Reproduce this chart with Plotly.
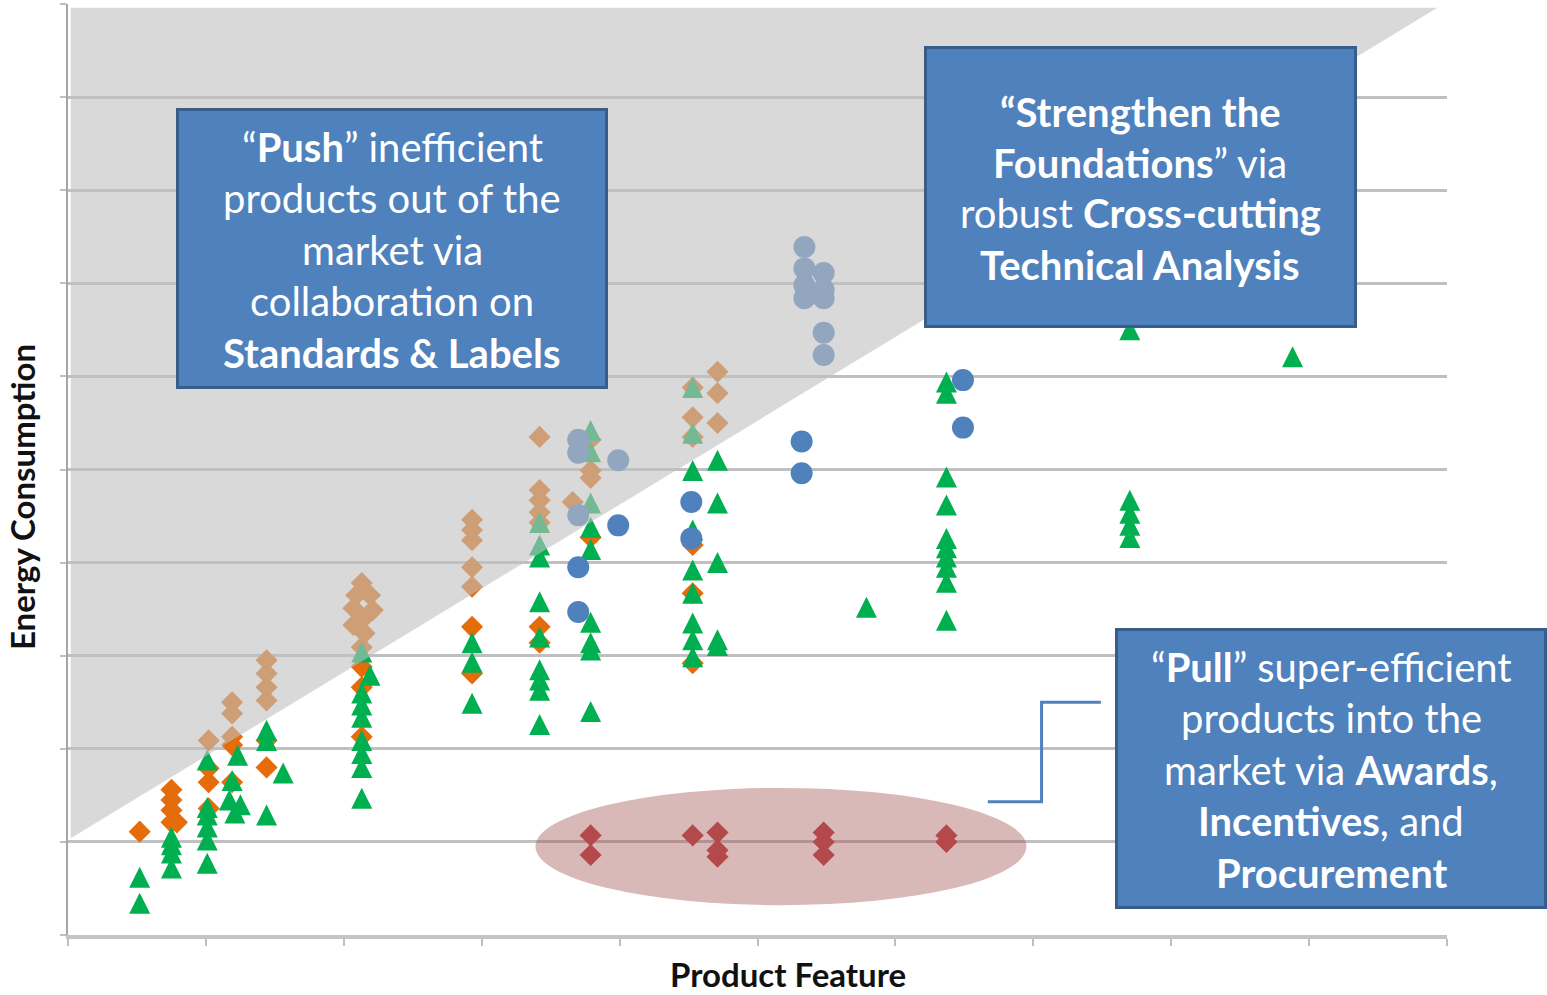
import plotly.graph_objects as go

# ---------------- data ----------------
green_x = [0.52, 0.52,
           0.75, 0.75, 0.75, 0.75,
           1.01, 1.01, 1.01, 1.01, 1.01, 1.01,
           1.23, 1.19, 1.17, 1.25, 1.21,
           1.44, 1.44, 1.56, 1.44,
           2.13, 2.19, 2.13, 2.13, 2.13, 2.13, 2.13, 2.13, 2.13,
           2.93, 2.93, 2.93,
           3.42, 3.42, 3.42, 3.42, 3.42, 3.42, 3.42, 3.42, 3.42,
           3.79, 3.79, 3.79, 3.79, 3.79, 3.79, 3.79, 3.79, 3.79,
           4.53, 4.53, 4.53, 4.53, 4.53, 4.53, 4.53, 4.53, 4.53,
           4.71, 4.71, 4.71, 4.71, 4.71,
           5.79,
           6.37, 6.37, 6.37, 6.37, 6.37, 6.37, 6.37, 6.37, 6.37, 6.37,
           7.70, 7.70, 7.70, 7.70, 7.70,
           8.88]
green_y = [0.62, 0.34,
           1.05, 0.97, 0.88, 0.72,
           1.88, 1.37, 1.29, 1.16, 1.02, 0.77,
           1.93, 1.66, 1.45, 1.40, 1.31,
           2.20, 2.09, 1.74, 1.29,
           3.04, 2.79, 2.60, 2.47, 2.34, 2.09, 1.95, 1.80, 1.47,
           3.14, 2.93, 2.49,
           4.43, 4.19, 4.06, 3.58, 3.20, 2.85, 2.74, 2.63, 2.26,
           5.42, 5.19, 4.64, 4.38, 4.14, 3.36, 3.14, 3.06, 2.40,
           5.88, 5.39, 4.99, 4.35, 3.92, 3.67, 3.35, 3.17, 2.99,
           5.10, 4.64, 4.00, 3.17, 3.11,
           3.52,
           5.94, 5.82, 4.92, 4.62, 4.26, 4.16, 4.06, 3.95, 3.79, 3.38,
           6.50, 4.67, 4.53, 4.40, 4.27,
           6.21]

orange_x = [0.52,
            0.75, 0.75, 0.75, 0.75, 0.79,
            1.02, 1.02, 1.02, 1.02,
            1.19, 1.19, 1.19, 1.19, 1.19,
            1.44, 1.44, 1.44, 1.44, 1.44, 1.44,
            2.13, 2.09, 2.19, 2.07, 2.21, 2.13, 2.07, 2.15, 2.13, 2.13, 2.13, 2.13,
            2.93, 2.93, 2.93, 2.93, 2.93, 2.93, 2.93,
            3.42, 3.42, 3.42, 3.42, 3.42, 3.42, 3.42,
            3.66, 3.79, 3.79, 3.79, 3.79,
            4.53, 4.53, 4.53, 4.53, 4.53, 4.53,
            4.71, 4.71, 4.71]
orange_y = [1.11,
            1.56, 1.45, 1.34, 1.21, 1.21,
            2.09, 1.79, 1.64, 1.36,
            2.50, 2.38, 2.13, 2.04, 1.64,
            2.95, 2.81, 2.66, 2.52, 2.09, 1.80,
            3.78, 3.65, 3.65, 3.51, 3.49, 3.38, 3.33, 3.24, 3.09, 2.88, 2.66, 2.13,
            4.46, 4.35, 4.24, 3.95, 3.74, 3.31, 2.81,
            5.35, 4.78, 4.67, 4.54, 4.43, 3.31, 3.14,
            4.65, 5.32, 4.99, 4.91, 4.27,
            5.88, 5.56, 5.35, 4.19, 3.67, 2.92,
            6.05, 5.82, 5.50]

blue_x = [3.70, 3.70, 3.99, 3.70, 3.70, 3.70, 3.99,
          4.52, 4.52,
          5.32, 5.32,
          5.34, 5.34, 5.48, 5.34, 5.48, 5.34, 5.48, 5.48, 5.48,
          6.49, 6.49]
blue_y = [5.32, 5.18, 5.10, 4.51, 3.95, 3.47, 4.40,
          4.65, 4.26,
          5.30, 4.96,
          7.39, 7.16, 7.11, 6.98, 6.93, 6.84, 6.84, 6.47, 6.23,
          5.96, 5.45]

red_x = [3.79, 3.79, 4.53, 4.71, 4.71, 4.71, 5.48, 5.48, 5.48, 6.37, 6.37]
red_y = [1.07, 0.86, 1.07, 1.10, 0.91, 0.84, 1.10, 1.00, 0.86, 1.07, 1.00]

x_ticks = list(range(11))
y_ticks = list(range(11))

push_lines = ["\u201c<b>Push</b>\u201d inefficient",
              "products out of the",
              "market via",
              "collaboration on",
              "<b>Standards &amp; Labels</b>"]
strengthen_lines = ["<b>\u201cStrengthen the</b>",
                    "<b>Foundations</b>\u201d via",
                    "robust <b>Cross-cutting</b>",
                    "<b>Technical Analysis</b>"]
pull_lines = ["\u201c<b>Pull</b>\u201d super-efficient",
              "products into the",
              "market via <b>Awards</b>,",
              "<b>Incentives</b>, and",
              "<b>Procurement</b>"]

# ---------------- figure ----------------
W, H = 1547, 995
ML, MR, MT, MB = 68, 100, 4, 60
PW, PH = W - ML - MR, H - MT - MB


def px(xp):
    return (xp - ML) / PW


def py(yp):
    return (H - MB - yp) / PH


TRI = 21

fig = go.Figure()
fig.add_trace(go.Scatter(x=orange_x, y=orange_y, mode="markers", hoverinfo="skip",
                         marker=dict(symbol="diamond", size=17, color="#e46c0a", line=dict(width=0))))
fig.add_trace(go.Scatter(x=green_x, y=green_y, mode="markers", hoverinfo="skip",
                         marker=dict(symbol="arrow-down", angle=180, size=TRI, standoff=TRI / 2,
                                     color="#00b050", line=dict(width=0))))
fig.add_trace(go.Scatter(x=blue_x, y=blue_y, mode="markers", hoverinfo="skip",
                         marker=dict(symbol="circle", size=22, color="#4f81bd", line=dict(width=0))))
fig.add_trace(go.Scatter(x=red_x, y=red_y, mode="markers", hoverinfo="skip",
                         marker=dict(symbol="diamond", size=17, color="#b3494a", line=dict(width=0))))

shapes = []
# ellipse highlighting super-efficient products
shapes.append(dict(type="circle", xref="x", yref="y", x0=3.39, x1=6.95, y0=0.32, y1=1.58,
                   fillcolor="rgba(160,78,78,0.4)", line=dict(width=0), layer="between"))
# translucent gray region (inefficient products)
shapes.append(dict(type="path", xref="x", yref="y", path="M 0.02,1.04 L 9.93,9.96 L 0.02,9.96 Z",
                   fillcolor="rgba(192,192,192,0.6)", line=dict(width=0), layer="above"))
# connector
shapes.append(dict(type="path", xref="x", yref="y", path="M 6.67,1.43 H 7.06 V 2.50 H 7.49",
                   line=dict(color="#4f81bd", width=3), layer="above"))
# text boxes
for (x0, x1, y0, y1) in [(176, 608, 108, 389), (924, 1357, 46, 328), (1115, 1547, 628, 909)]:
    shapes.append(dict(type="rect", xref="paper", yref="paper",
                       x0=px(x0 + 1.5), x1=px(x1 - 1.5), y0=py(y1 - 1.5), y1=py(y0 + 1.5),
                       fillcolor="#4f81bd", line=dict(color="#385d8a", width=3), layer="above"))

annotations = []
box_font = dict(family="Lato", size=40, color="white")
for lines, cx, cys in [(push_lines, 392, [147, 198, 250, 301, 353]),
                       (strengthen_lines, 1140, [112, 163, 213, 265]),
                       (pull_lines, 1331, [667, 718, 770, 821, 873])]:
    for t, cy in zip(lines, cys):
        annotations.append(dict(text=t, xref="paper", yref="paper", x=px(cx), y=py(cy),
                                xanchor="center", yanchor="middle", showarrow=False, font=box_font))

title_font = dict(family="Lato", size=33, color="#111111")
annotations.append(dict(text="<b>Energy Consumption</b>", xref="paper", yref="paper",
                        x=px(22), y=py(497), textangle=-90, xanchor="center", yanchor="middle",
                        showarrow=False, font=title_font))
annotations.append(dict(text="<b>Product Feature</b>", xref="paper", yref="paper",
                        x=px(788), y=py(995), xanchor="center", yanchor="bottom", borderpad=0,
                        showarrow=False, font=title_font))

fig.update_layout(
    width=W, height=H,
    margin=dict(l=ML, r=MR, t=MT, b=MB),
    plot_bgcolor="white", paper_bgcolor="white",
    showlegend=False,
    shapes=shapes, annotations=annotations,
    xaxis=dict(range=[0, 10], showgrid=False, zeroline=False, showticklabels=False,
               tickmode="array", tickvals=x_ticks, ticks="outside", ticklen=7, tickwidth=2,
               tickcolor="#bfbfbf", showline=True, linecolor="#c4c4c4", linewidth=4),
    yaxis=dict(range=[0, 10], showgrid=True, gridcolor="#c0c0c0", gridwidth=3, zeroline=False,
               showticklabels=False, tickmode="array", tickvals=y_ticks, ticks="outside",
               ticklen=6, tickwidth=2, tickcolor="#bfbfbf", showline=True,
               linecolor="#a6a6a6", linewidth=2),
)

fig.write_html("out.html", config={"displayModeBar": False},
               post_script="document.body.style.margin='0';document.body.style.padding='0';")
